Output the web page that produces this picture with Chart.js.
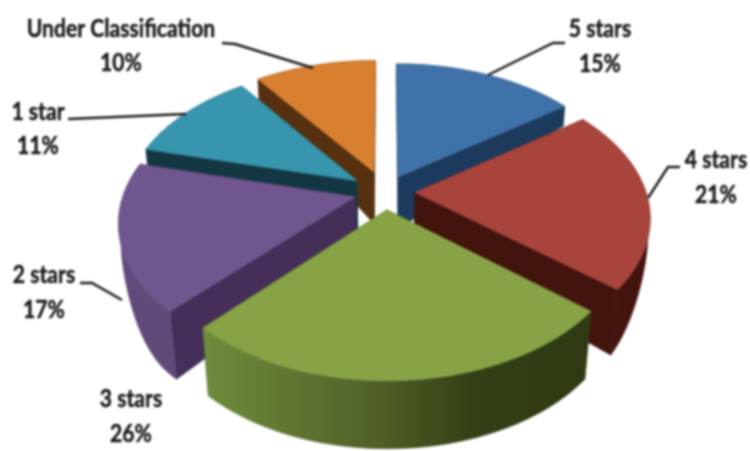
<!DOCTYPE html>
<html>
<head>
<meta charset="utf-8">
<script src="https://cdn.jsdelivr.net/npm/chart.js@4"></script>
<style>
  body { margin: 0; background: #fff; }
  canvas { display: block; filter: blur(0.8px); }
</style>
</head>
<body>
<canvas id="pieChart" width="750" height="451"></canvas>
<script>
const categories = ["5 stars", "4 stars", "3 stars", "2 stars", "1 star", "Under Classification"];
const shares = [15, 21, 26, 17, 11, 10];

const topColors = ["#3f72a8", "#a8443c", "#87a345", "#70568f", "#3795ae", "#d8802f"];
const sideColors = ["#1c3a5e", "#43130d", "#333f15", "#452f58", "#123742", "#56300f"];
const arcColors = ["#1c3a5e", "#43130d", null, "#5f4a7a", "#123742", "#56300f"];
const sliceOffsets = [27, 27, 27, 28, 31, 33];

// back slices first, the front one covers the others
const drawOrder = [0, 5, 4, 1, 3, 2];

// where each label sits: [x, first line y, second line y]
const labelSpots = [[600, 29, 64], [716, 160, 195], [131, 399, 434], [44, 275, 310], [38, 112, 146], [121, 29, 63]];
const leaderLines = [
  [[565, 43], [553, 43], [488, 75]],
  [[680, 167], [668, 167], [648, 198]],
  null,
  [[80, 283], [92, 283], [122, 300]],
  [[68, 119], [186, 114]],
  [[222, 43], [235, 44], [313, 68]]
];

// perspective of the tilted pie
const centerX = 385, centerY = 192, scaleX = 231, scaleY = 136, tilt = 0.165;

function project(u, v) {
  const w = 1 / (1 - tilt * v);
  return [centerX + scaleX * u * w, centerY + scaleY * v * w];
}

// thickness of the pie on the rim, thin at the back and full at the front
function rimDepth(v) {
  const t = Math.min(1, Math.max(0, (v - 0.15) / 0.57));
  return 20 + 48 * t * t * (3 - 2 * t);
}

function slicePoints(arc) {
  const R = arc.outerRadius;
  const mid = (arc.startAngle + arc.endAngle) / 2;
  const ox = Math.cos(mid) * arc.options.offset / R;
  const oy = Math.sin(mid) * arc.options.offset / R;
  const rim = [];
  const steps = 48;
  for (let i = 0; i <= steps; i++) {
    const a = arc.startAngle + (arc.endAngle - arc.startAngle) * i / steps;
    rim.push([Math.cos(a) + ox, Math.sin(a) + oy]);
  }
  return { apex: [ox, oy], rim };
}

function dropBy(p, depth) {
  const s = project(p[0], p[1]);
  // lower edge pulls in a little towards the middle
  return [centerX + (s[0] - centerX) * (1 - 0.03 * depth / 68), s[1] + depth];
}

function fillPoly(ctx, pts, color) {
  ctx.beginPath();
  pts.forEach((p, i) => (i ? ctx.lineTo(p[0], p[1]) : ctx.moveTo(p[0], p[1])));
  ctx.closePath();
  ctx.fillStyle = color;
  ctx.strokeStyle = color;
  ctx.lineWidth = 0.6;
  ctx.fill();
  ctx.stroke();
}

const pie3d = {
  id: "pie3d",
  beforeDatasetDraw(chart) {
    const ctx = chart.ctx;
    const arcs = chart.getDatasetMeta(0).data;
    ctx.save();
    drawOrder.forEach((idx) => {
      const { apex, rim } = slicePoints(arcs[idx]);
      const first = rim[0], last = rim[rim.length - 1];
      const dropRim = (p) => dropBy(p, rimDepth(p[1]));
      const apexLow = dropBy(apex, 52);
      // flat cut faces
      fillPoly(ctx, [project(...apex), project(...first), dropRim(first), apexLow], sideColors[idx]);
      fillPoly(ctx, [project(...apex), project(...last), dropRim(last), apexLow], sideColors[idx]);
      // outer curved face
      let arcFill = arcColors[idx];
      if (!arcFill) {
        arcFill = ctx.createLinearGradient(205, 0, 590, 0);
        arcFill.addColorStop(0, "#6f8b3c");
        arcFill.addColorStop(0.45, "#4f5f26");
        arcFill.addColorStop(0.7, "#333f15");
        arcFill.addColorStop(1, "#2f3a14");
      }
      const outer = rim.map((p) => project(...p)).concat(rim.slice().reverse().map(dropRim));
      fillPoly(ctx, outer, arcFill);
      // top face
      fillPoly(ctx, [project(...apex)].concat(rim.map((p) => project(...p))), topColors[idx]);
    });
    ctx.restore();
    return false;
  },
  afterDraw(chart) {
    const ctx = chart.ctx;
    ctx.save();
    ctx.strokeStyle = "#1c1c1c";
    ctx.lineWidth = 2.4;
    leaderLines.forEach((line) => {
      if (!line) return;
      ctx.beginPath();
      line.forEach((p, i) => (i ? ctx.lineTo(p[0], p[1]) : ctx.moveTo(p[0], p[1])));
      ctx.stroke();
    });
    ctx.fillStyle = "#1c1c1c";
    ctx.strokeStyle = "#1c1c1c";
    ctx.lineWidth = 0.5;
    ctx.font = "bold 24px Lato";
    ctx.textAlign = "center";
    ctx.textBaseline = "middle";
    categories.forEach((name, i) => {
      const [x, y1, y2] = labelSpots[i];
      [[name, y1], [shares[i] + "%", y2]].forEach(([text, y]) => {
        ctx.save();
        ctx.translate(x, y);
        ctx.scale(0.88, 1);
        ctx.fillText(text, 0, 0);
        ctx.strokeText(text, 0, 0);
        ctx.restore();
      });
    });
    ctx.restore();
  }
};

new Chart(document.getElementById("pieChart").getContext("2d"), {
  type: "pie",
  data: {
    labels: categories,
    datasets: [{ data: shares, backgroundColor: topColors, borderWidth: 0, offset: sliceOffsets }]
  },
  options: {
    responsive: false,
    animation: false,
    plugins: { legend: { display: false }, tooltip: { enabled: false } }
  },
  plugins: [pie3d]
});
</script>
</body>
</html>
